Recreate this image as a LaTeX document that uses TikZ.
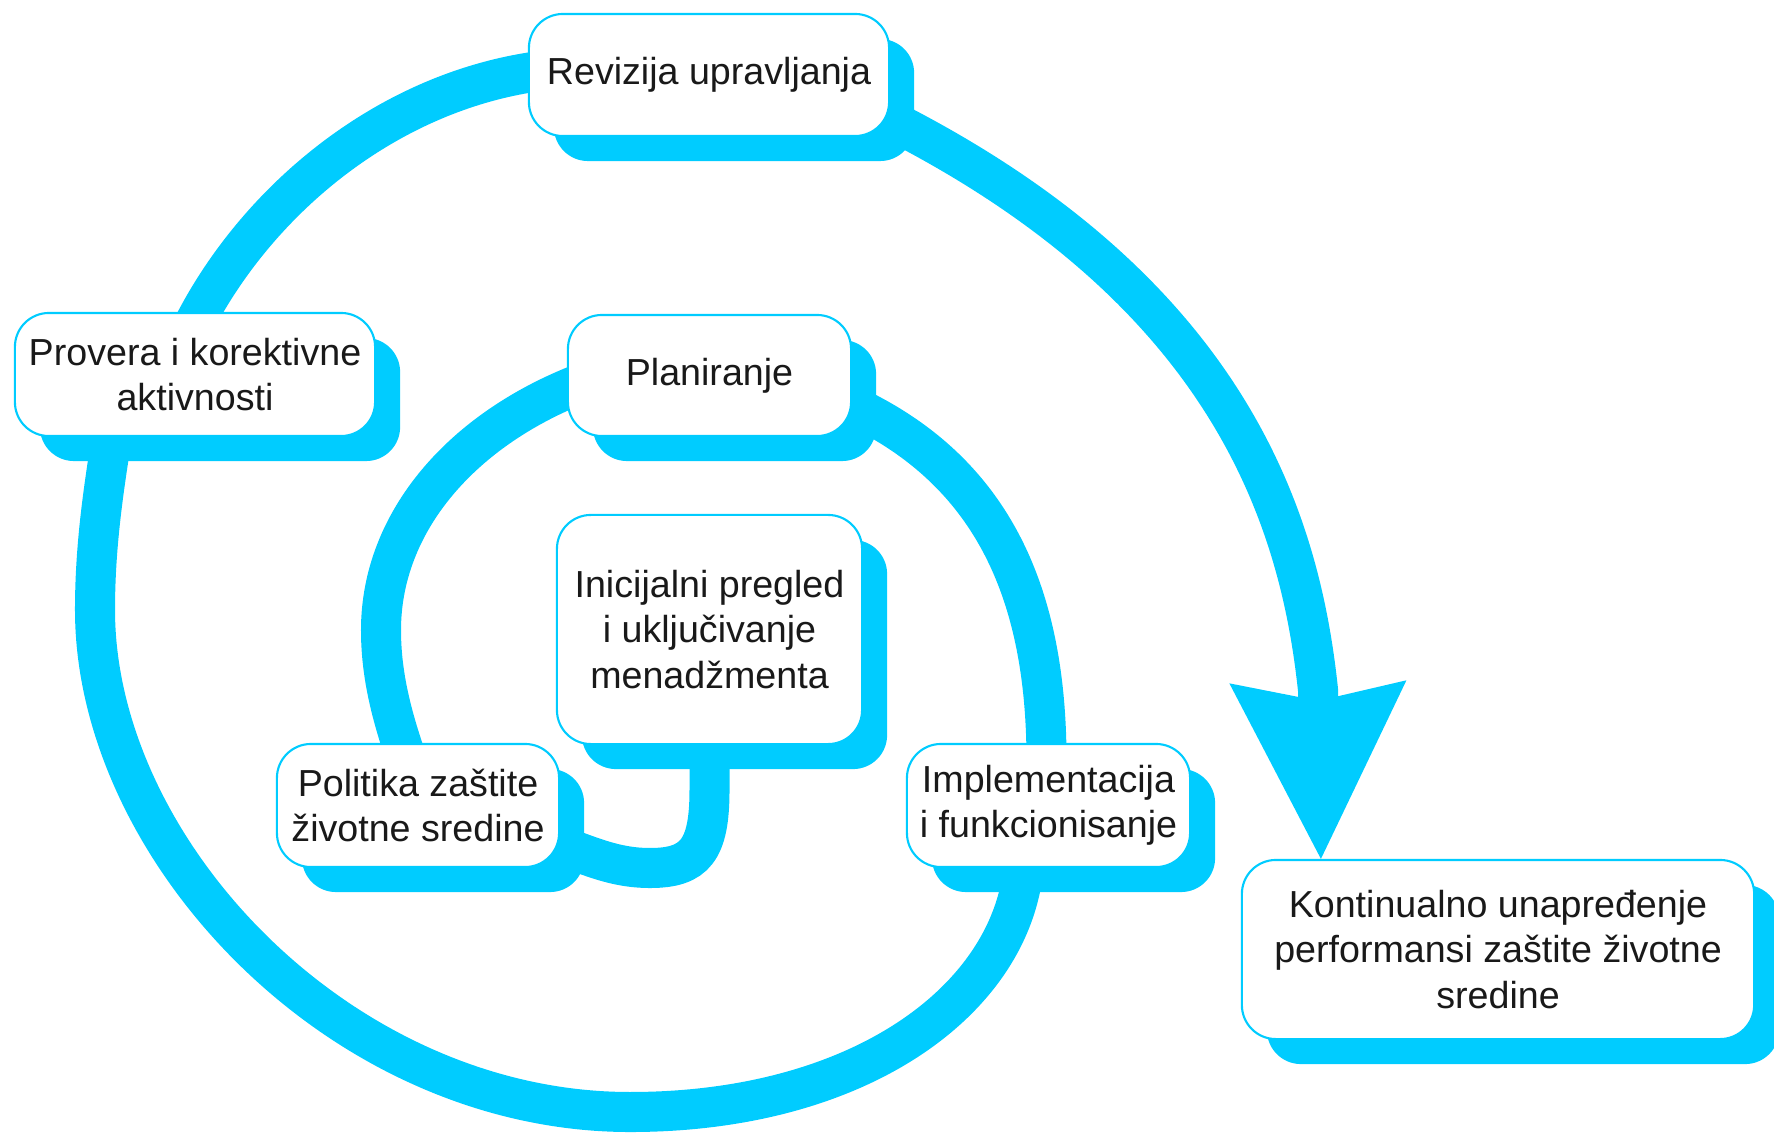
\documentclass[tikz,border=0pt]{standalone}
\usepackage{fontspec}
\setmainfont{Liberation Sans}
\usetikzlibrary{shadows,backgrounds,arrows.meta}
\definecolor{cyanband}{RGB}{0,204,255}
\begin{document}
\begin{tikzpicture}[x=0.01cm, y=-0.01cm]
\tikzset{ stage/.style={draw=cyanband, line width=0.6pt, fill=white, rounded corners=0.34cm,
            align=center, inner sep=0pt, text=black!90, font=\fontsize{10.7}{12.9}\selectfont,
            general shadow={fill=cyanband, shadow xshift=0.25cm, shadow yshift=-0.25cm}},
          ribbon/.style={cyanband, line width=0.4cm}, }

\useasboundingbox (0,0) rectangle (1774,1137);

\node [stage, minimum width=3.60cm, minimum height=1.22cm] (REV) at (709,75)    {Revizija upravljanja};
\node [stage, minimum width=3.60cm, minimum height=1.23cm] (PRO) at (195,374.5) {Provera i korektivne\\aktivnosti};
\node [stage, minimum width=2.83cm, minimum height=1.21cm] (PLA) at (709.5,375.5) {Planiranje};
\node [stage, minimum width=3.05cm, minimum height=2.29cm] (INI) at (709.5,629.5) {Inicijalni pregled\\i uključivanje\\menadžmenta};
\node [stage, minimum width=2.82cm, minimum height=1.23cm] (POL) at (418,805.5) {Politika zaštite\\životne sredine};
\node [stage, minimum width=2.83cm, minimum height=1.23cm] (IMP) at (1048.5,805.5) {Implementacija\\i funkcionisanje};
\node [stage, minimum width=5.12cm, minimum height=1.79cm] (KON) at (1498,949.5) {Kontinualno unapređenje\\performansi zaštite životne\\sredine};

\coordinate (tip) at ([xshift=-1.77cm]KON.north);

\begin{scope}[on background layer]
% inner turn
\draw [ribbon] (INI.south) -- (709.5,790) .. controls (709.5,850) and (695,868) .. (650,868)
               .. controls (615,868) and (590,856) .. ([yshift=-0.4cm]POL.east);
\draw [ribbon] ([xshift=-0.1cm,yshift=-0.2cm]POL.north) .. controls (390,712) and (381,672) .. (381,630)
               .. controls (381,522) and (462,428) .. ([xshift=0.19cm,yshift=-0.06cm]PLA.west);
\draw [ribbon] ([yshift=-0.3cm]PLA.east) .. controls (990,470) and (1047,590) .. ([xshift=-0.02cm,yshift=-0.2cm]IMP.north);

% outer turn
\draw [ribbon] ([xshift=-0.25cm]IMP.south) .. controls (1010,1000) and (860,1112) .. (630,1112)
               .. controls (340,1112) and (95,850) .. (95,610)
               .. controls (95,540) and (105,480) .. ([xshift=-0.8cm,yshift=0.2cm]PRO.south);
\draw [ribbon] ([xshift=-0.05cm,yshift=-0.2cm]PRO.north) .. controls (255,200) and (390,88) .. ([xshift=0.2cm,yshift=0.05cm]REV.west);

% way out
\draw [ribbon, -{Stealth[length=1.77cm, width=1.77cm, inset=0.19cm, line width=0pt]}]
      ([xshift=-0.2cm,yshift=-0.35cm]REV.east) .. controls (1230,285) and (1300,520) .. (1318,690) -- (tip);
\end{scope}

\end{tikzpicture}
\end{document}
